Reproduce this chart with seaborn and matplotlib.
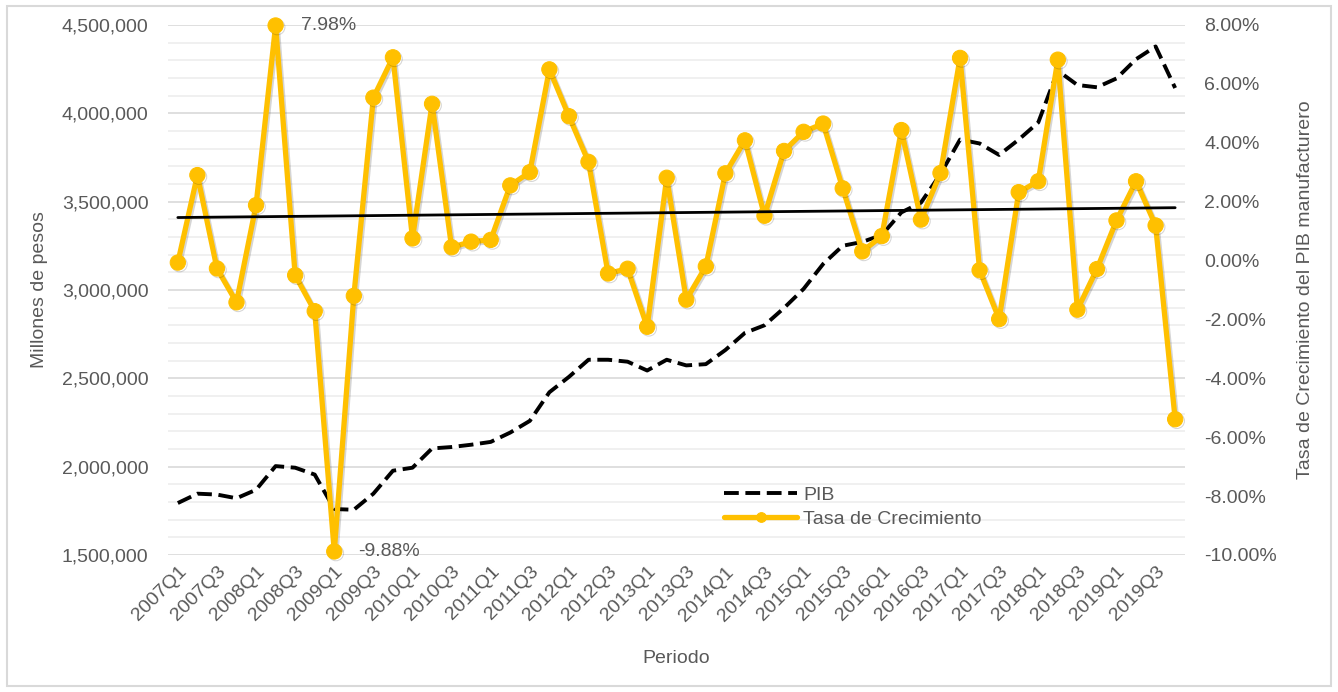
import numpy as np
import pandas as pd
import matplotlib
matplotlib.use("Agg")
import matplotlib.pyplot as plt
import matplotlib.patheffects as pe
from matplotlib.ticker import FuncFormatter, MultipleLocator
import seaborn as sns

years = list(range(2007, 2020))
periods = [f"{y}Q{q}" for y in years for q in range(1, 5)]

pib = [1794000, 1847000, 1842000, 1821000, 1869000, 2003000, 1994000, 1955000,
       1760000, 1756000, 1847000, 1977000, 1994000, 2103000, 2111000, 2124000,
       2140000, 2193000, 2259000, 2421000, 2508000, 2605000, 2605000, 2594000,
       2544000, 2605000, 2573000, 2580000, 2660000, 2757000, 2800000, 2898000,
       3006000, 3147000, 3250000, 3272000, 3311000, 3439000, 3494000, 3656000,
       3851000, 3829000, 3764000, 3851000, 3948000, 4241000, 4160000, 4147000,
       4197000, 4306000, 4378000, 4143000]

growth = [-0.07, 2.90, -0.27, -1.42, 1.88, 7.98, -0.50, -1.72, -9.88, -1.20,
          5.53, 6.90, 0.75, 5.32, 0.45, 0.64, 0.70, 2.55, 3.00, 6.49,
          4.90, 3.35, -0.44, -0.28, -2.25, 2.81, -1.33, -0.20, 2.96, 4.08,
          1.52, 3.72, 4.37, 4.65, 2.45, 0.31, 0.83, 4.43, 1.39, 2.97,
          6.88, -0.33, -1.99, 2.32, 2.69, 6.82, -1.67, -0.29, 1.36, 2.69,
          1.19, -5.39]

df = pd.DataFrame({"periodo": periods, "pos": np.arange(len(periods)),
                   "pib": pib, "growth": growth})

sns.set_theme(style="white")
plt.rcParams["font.family"] = ["Liberation Sans", "DejaVu Sans"]
GREY = "#595959"
YELLOW = "#FFC000"
FS = 14

fig = plt.figure(figsize=(13.38, 6.92), dpi=100)
ax = fig.add_axes([0.1256, 0.198, 0.76, 0.766])
ax2 = ax.twinx()

# grid (left axis major + minor)
ax.set_ylim(1500000, 4500000)
ax.yaxis.set_major_locator(MultipleLocator(500000))
ax.yaxis.set_minor_locator(MultipleLocator(100000))
ax.grid(True, which="major", axis="y", color="#D9D9D9", lw=1.2)
ax.grid(True, which="minor", axis="y", color="#EDEDED", lw=1.2)
ax.set_axisbelow(True)

sns.lineplot(data=df, x="pos", y="pib", ax=ax, color="black", lw=2.8,
             label="PIB", legend=False)
ax.lines[-1].set_dashes([3.8, 1.7])

sns.lineplot(data=df, x="pos", y="growth", ax=ax2, color=YELLOW, lw=3.8,
             marker="o", markersize=11, markeredgecolor=YELLOW,
             label="Tasa de Crecimiento", legend=False)
gl = ax2.lines[-1]
gl.set_clip_on(False)
gl.set_path_effects([pe.SimpleLineShadow(offset=(1.2, -1.2), alpha=0.18),
                     pe.Normal()])

# linear trend on growth rate
coef = np.polyfit(df["pos"], df["growth"], 1)
trend = np.polyval(coef, df["pos"])
sns.lineplot(x=df["pos"], y=trend, ax=ax2, color="black", lw=2, legend=False)

ax2.set_ylim(-10, 8)
ax2.yaxis.set_major_locator(MultipleLocator(2))
ax.set_xlim(-0.5, len(periods) - 0.5)

ax.set_xticks(df["pos"][::2])
ax.set_xticklabels(df["periodo"][::2], rotation=45, ha="right",
                   rotation_mode="anchor", color=GREY, fontsize=FS)
ax.yaxis.set_major_formatter(FuncFormatter(lambda v, p: f"{v:,.0f}"))
ax2.yaxis.set_major_formatter(FuncFormatter(lambda v, p: f"{v:.2f}%"))
for a in (ax, ax2):
    a.tick_params(axis="y", which="both", labelsize=FS, labelcolor=GREY, length=0)
    for s in a.spines.values():
        s.set_visible(False)
ax.tick_params(axis="y", pad=14)
ax.tick_params(axis="x", length=0, pad=6)
ax2.tick_params(axis="y", pad=14)

ax.set_xlabel("Periodo", fontsize=FS, color=GREY, labelpad=18)
ax.set_ylabel("Millones de pesos", fontsize=FS, color=GREY, labelpad=10)
ax2.set_ylabel("Tasa de Crecimiento del PIB manufacturero", fontsize=FS,
               color=GREY, labelpad=14)

# annotations for max / min
imax = int(np.argmax(growth))
imin = int(np.argmin(growth))
ax2.annotate(f"{growth[imax]:.2f}%", (imax, growth[imax]), xytext=(18, 0),
             textcoords="offset points", va="center", fontsize=FS, color=GREY)
ax2.annotate(f"{growth[imin]:.2f}%", (imin, growth[imin]), xytext=(17, 0),
             textcoords="offset points", va="center", fontsize=FS, color=GREY)

handles = [ax.lines[0], ax2.lines[0]]
leg = fig.legend(handles, ["PIB", "Tasa de Crecimiento"], loc="upper left",
                 bbox_to_anchor=(0.535, 0.308), frameon=False, fontsize=FS,
                 handlelength=3.8, handletextpad=0.3, labelspacing=0.3,
                 borderaxespad=0)
for t in leg.get_texts():
    t.set_color(GREY)
leg.legend_handles[1].set_markersize(7)
leg.legend_handles[1].set_path_effects([])

fig.patches.append(plt.Rectangle((0.005, 0.008), 0.99, 0.983, transform=fig.transFigure,
                                 fill=False, edgecolor="#D9D9D9", lw=1.5))

fig.savefig("out.png", dpi=100)
